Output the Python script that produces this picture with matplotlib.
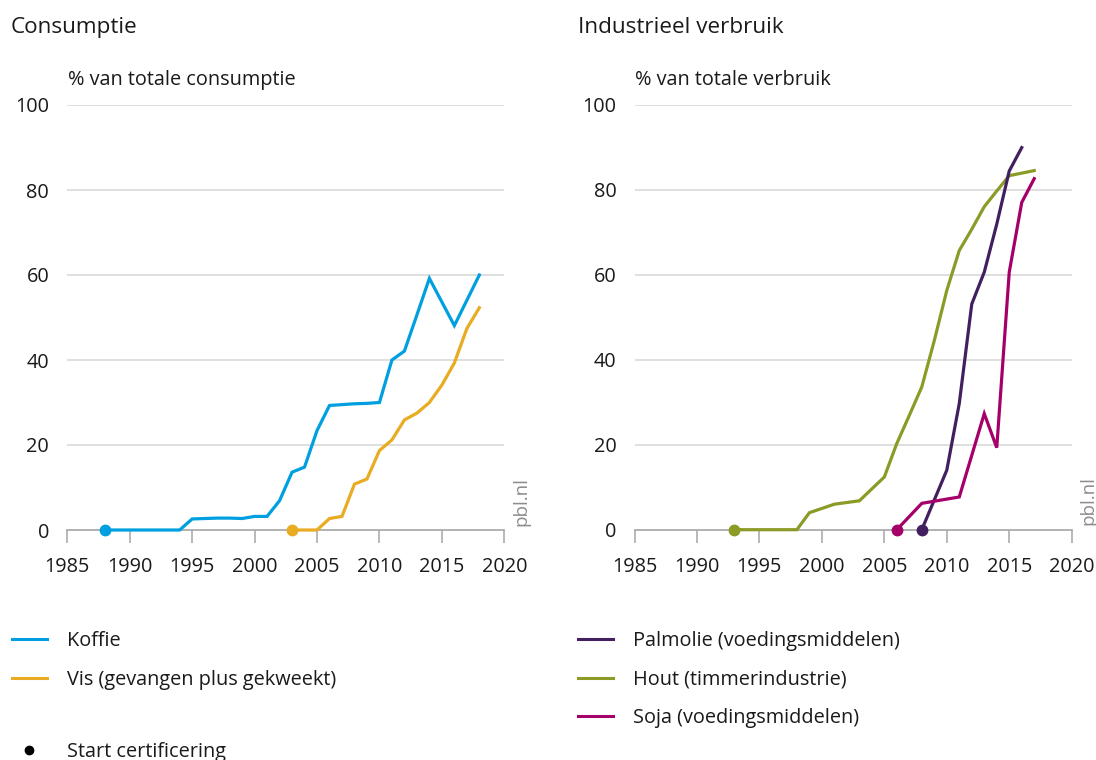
import matplotlib
matplotlib.use("Agg")
import matplotlib.pyplot as plt
from matplotlib.lines import Line2D

plt.rcParams["font.family"] = ["Open Sans", "DejaVu Sans"]

# --- data -------------------------------------------------------------
koffie_years = [1988, 1989, 1990, 1991, 1992, 1993, 1994, 1995, 1996, 1997,
                1998, 1999, 2000, 2001, 2002, 2003, 2004, 2005, 2006, 2007,
                2008, 2009, 2010, 2011, 2012, 2013, 2014, 2016, 2018]
koffie = [0, 0, 0, 0, 0, 0, 0, 2.6, 2.7, 2.8,
          2.8, 2.7, 3.2, 3.2, 6.9, 13.6, 14.8, 23.4, 29.3, 29.5,
          29.7, 29.8, 30.0, 40.0, 42.1, 50.6, 59.2, 48.1, 60.0]

vis_years = [2003, 2004, 2005, 2006, 2007, 2008, 2009, 2010, 2011, 2012,
             2013, 2014, 2015, 2016, 2017, 2018]
vis = [0, 0, 0, 2.7, 3.2, 10.8, 12.0, 18.7, 21.2, 25.9,
       27.5, 30.0, 34.1, 39.3, 47.4, 52.3]

palmolie_years = [2008, 2010, 2011, 2012, 2013, 2014, 2015, 2016]
palmolie = [0, 14.0, 29.7, 53.1, 60.6, 71.9, 84.4, 89.9]

hout_years = [1993, 1994, 1995, 1996, 1997, 1998, 1999, 2000, 2001, 2003,
              2005, 2006, 2007, 2008, 2009, 2010, 2011, 2012, 2013, 2014,
              2015, 2017]
hout = [0, 0, 0, 0, 0, 0, 4.0, 5.0, 6.0, 6.8,
        12.4, 20.3, 26.9, 33.6, 44.5, 56.3, 65.7, 70.7, 76.0, 79.7,
        83.3, 84.5]

soja_years = [2006, 2008, 2011, 2013, 2014, 2015, 2016, 2017]
soja = [0, 6.2, 7.7, 27.3, 19.3, 60.6, 77.0, 82.6]

x_ticks = [1985, 1990, 1995, 2000, 2005, 2010, 2015, 2020]
y_ticks = [0, 20, 40, 60, 80, 100]

# --- style ------------------------------------------------------------
C_KOFFIE = "#009fdf"
C_VIS = "#e8ab22"
C_PALM = "#42205f"
C_HOUT = "#8c9a26"
C_SOJA = "#a5006a"
TXT = "#1a1a1a"
GRID = "#d6d6d6"
AXIS = "#a6a6a6"
FS = 14.3
LW = 2.3

W, H = 1096, 760
fig = plt.figure(figsize=(W / 100, H / 100), dpi=100)


def px(x, y):
    return x / W, 1 - y / H


def setup(ax):
    ax.set_xlim(1985, 2020)
    ax.set_ylim(0, 100)
    ax.set_xticks(x_ticks)
    ax.set_yticks(y_ticks)
    ax.set_xticklabels([str(t) for t in x_ticks])
    ax.set_yticklabels([str(t) for t in y_ticks])
    for s in ("top", "right", "left"):
        ax.spines[s].set_visible(False)
    ax.spines["bottom"].set_color(AXIS)
    ax.spines["bottom"].set_linewidth(1.2)
    ax.tick_params(axis="x", direction="out", length=9.5, width=1.1,
                   color=AXIS, labelsize=FS, labelcolor=TXT, pad=10)
    ax.tick_params(axis="y", length=0, labelsize=FS, labelcolor=TXT, pad=13)
    ax.yaxis.grid(True, color=GRID, linewidth=1.1)
    ax.set_axisbelow(True)
    # hide the zero gridline under the axis line
    ax.get_ygridlines()[0].set_visible(False)
    ax.text(1.039, 0.01, "pbl.nl", transform=ax.transAxes, rotation=90,
            ha="center", va="bottom", fontsize=13.5, color="#8c8c8c")


def series(ax, xs, ys, color):
    ax.plot(xs, ys, color=color, lw=LW, solid_joinstyle="miter",
            clip_on=False, zorder=3)
    ax.plot(xs[0], ys[0], "o", color=color, ms=7.5, clip_on=False, zorder=4)


ax1 = fig.add_axes([67.3 / W, (H - 530) / H, 437 / W, 425 / H])
ax2 = fig.add_axes([634.5 / W, (H - 529.7) / H, 437.2 / W, 425 / H])
setup(ax1)
setup(ax2)

series(ax1, koffie_years, koffie, C_KOFFIE)
series(ax1, vis_years, vis, C_VIS)
series(ax2, hout_years, hout, C_HOUT)
series(ax2, palmolie_years, palmolie, C_PALM)
series(ax2, soja_years, soja, C_SOJA)

# titles and unit labels
fig.text(*px(11, 33), "Consumptie", fontsize=16.2, color=TXT, va="baseline")
fig.text(*px(578, 33), "Industrieel verbruik", fontsize=16.2, color=TXT,
         va="baseline")
fig.text(*px(68, 85), "% van totale consumptie", fontsize=FS, color=TXT,
         va="baseline")
fig.text(*px(635, 85), "% van totale verbruik", fontsize=FS, color=TXT,
         va="baseline")

# legends
leg_kw = dict(frameon=False, fontsize=FS, handlelength=1.76,
              handletextpad=1.0, labelspacing=0.96, borderpad=0,
              borderaxespad=0, loc="upper left", labelcolor=TXT)

h_left = [Line2D([], [], color=C_KOFFIE, lw=2.2),
          Line2D([], [], color=C_VIS, lw=2.2)]
fig.legend(h_left, ["Koffie", "Vis (gevangen plus gekweekt)"],
           bbox_to_anchor=px(11.7, 631), **leg_kw)

h_dot = [Line2D([], [], color="black", marker="o", ls="none", ms=6)]
fig.legend(h_dot, ["Start certificering"], bbox_to_anchor=px(11.7, 742),
           **leg_kw)

h_right = [Line2D([], [], color=C_PALM, lw=2.2),
           Line2D([], [], color=C_HOUT, lw=2.2),
           Line2D([], [], color=C_SOJA, lw=2.2)]
leg_kw["labelspacing"] = 0.93
fig.legend(h_right, ["Palmolie (voedingsmiddelen)", "Hout (timmerindustrie)",
                     "Soja (voedingsmiddelen)"],
           bbox_to_anchor=px(578.3, 631), **leg_kw)

fig.savefig("out.png", dpi=100, facecolor="white")
